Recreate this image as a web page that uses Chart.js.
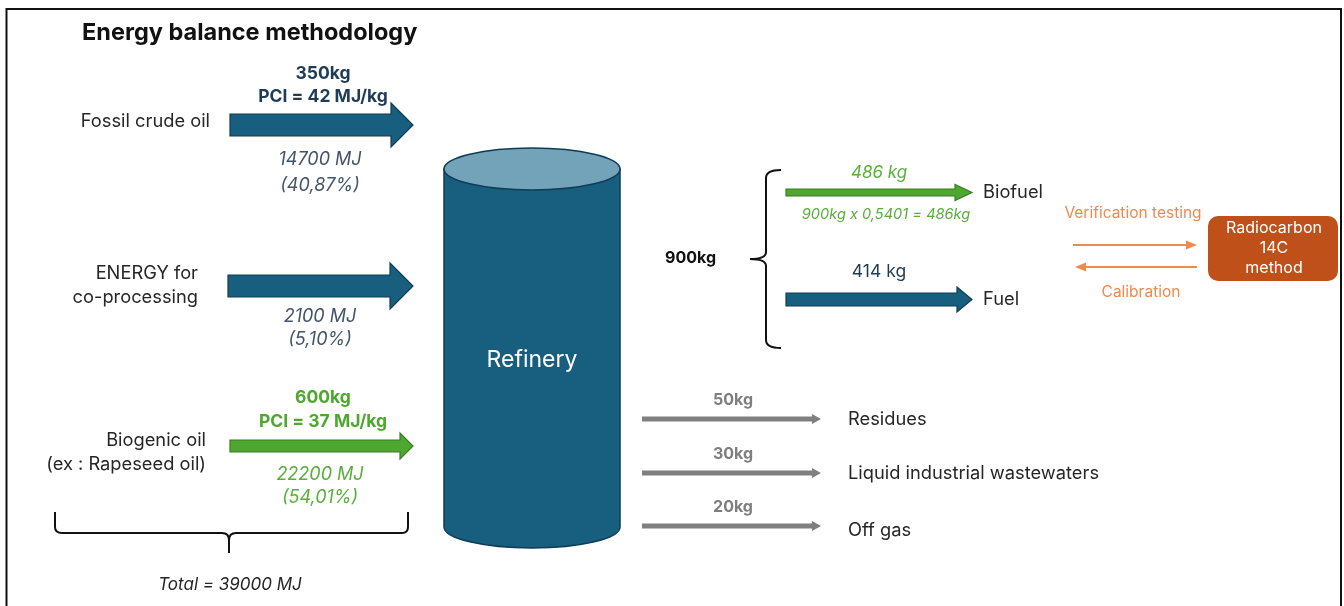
<!DOCTYPE html>
<html>
<head>
<meta charset="utf-8">
<script src="https://cdn.jsdelivr.net/npm/chart.js@4.4.1/dist/chart.umd.min.js"></script>
<style>
  html, body { margin: 0; padding: 0; background: #fff; }
  #wrap { width: 1344px; height: 606px; }
</style>
</head>
<body>
<div id="wrap"><canvas id="diagram" width="1344" height="606"></canvas></div>
<script>
const inputNames = [['Fossil crude oil'], ['ENERGY for', 'co-processing'], ['Biogenic oil', '(ex : Rapeseed oil)']];
const inputMass = [350, null, 600];          // kg
const inputPCI = [42, null, 37];             // MJ/kg
const inputEnergy = [14700, 2100, 22200];    // MJ
const inputShare = ['40,87', '5,10', '54,01']; // %
const totalEnergy = 39000;                   // MJ

const productNames = ['Biofuel', 'Fuel'];
const productMass = [486, 414];              // kg
const productTotal = 900;                    // kg
const bioFactor = '0,5401';

const lossNames = ['Residues', 'Liquid industrial wastewaters', 'Off gas'];
const lossMass = [50, 30, 20];               // kg

const methodLines = ['Radiocarbon', '14C', 'method'];

// --- mise en page (unités du repère = px du schéma) ---
const FONT = "Inter, 'Liberation Sans', Arial, sans-serif";
const C = {
  blue: '#175e7f', blueEdge: '#0f3d55', blueText: '#1f3c57', blueItal: '#44546a',
  green: '#4ea72e', greenEdge: '#3a7d22', greenText: '#5aae3a',
  gray: '#7f7f7f', orange: '#ef8a4f', box: '#c0501a', text: '#262626',
};
const inputRows = [
  { labelX: 210, labelY: [122], x0: 230, yc: 125, shaft: 22, head: 44, headLen: 22, col: 'blue', topY: [74, 97], botY: [160, 186] },
  { labelX: 198, labelY: [274, 298], x0: 228, yc: 286, shaft: 22, head: 46, headLen: 23, col: 'blue', topY: null, botY: [317, 340] },
  { labelX: 206, labelY: [441, 465], x0: 230, yc: 446, shaft: 12, head: 26, headLen: 13, col: 'green', topY: [398, 422], botY: [475, 498] },
];
const productRows = [
  { yc: 192.5, shaft: 7, head: 16, headLen: 17, col: 'green', labelY: 173, nameY: 193 },
  { yc: 299.5, shaft: 13, head: 25, headLen: 15, col: 'blue', labelY: 272, nameY: 300 },
];
const lossRows = [419, 473, 526];

const diagramPlugin = {
  id: 'diagram',
  afterDraw(chart) {
    const ctx = chart.ctx;
    const xs = chart.scales.x, ys = chart.scales.y;
    const X = v => xs.getPixelForValue(v);
    const Y = v => ys.getPixelForValue(v);

    function text(str, x, y, opt) {
      ctx.save();
      ctx.font = (opt.style || '') + ' ' + (opt.weight || 'normal') + ' ' + opt.size + 'px ' + FONT;
      ctx.fillStyle = opt.color || C.text;
      ctx.textAlign = opt.align || 'center';
      ctx.textBaseline = 'middle';
      ctx.fillText(str, X(x), Y(y));
      ctx.restore();
    }

    function arrow(x0, x1, yc, shaft, head, headLen, fill, stroke) {
      const hb = x1 - headLen;
      ctx.save();
      ctx.beginPath();
      ctx.moveTo(X(x0), Y(yc - shaft / 2));
      ctx.lineTo(X(hb), Y(yc - shaft / 2));
      ctx.lineTo(X(hb), Y(yc - head / 2));
      ctx.lineTo(X(x1), Y(yc));
      ctx.lineTo(X(hb), Y(yc + head / 2));
      ctx.lineTo(X(hb), Y(yc + shaft / 2));
      ctx.lineTo(X(x0), Y(yc + shaft / 2));
      ctx.closePath();
      ctx.fillStyle = fill;
      ctx.fill();
      if (stroke) { ctx.strokeStyle = stroke; ctx.lineWidth = 1.2; ctx.stroke(); }
      ctx.restore();
    }

    function thinArrow(x0, x1, y, color) {
      const dir = Math.sign(x1 - x0);
      ctx.save();
      ctx.strokeStyle = color; ctx.fillStyle = color; ctx.lineWidth = 2;
      ctx.beginPath();
      ctx.moveTo(X(x0), Y(y)); ctx.lineTo(X(x1 - dir * 8), Y(y)); ctx.stroke();
      ctx.beginPath();
      ctx.moveTo(X(x1), Y(y));
      ctx.lineTo(X(x1 - dir * 11), Y(y - 4.5));
      ctx.lineTo(X(x1 - dir * 11), Y(y + 4.5));
      ctx.closePath(); ctx.fill();
      ctx.restore();
    }

    // cadre
    ctx.save();
    ctx.strokeStyle = '#111'; ctx.lineWidth = 2;
    ctx.beginPath();
    ctx.moveTo(X(6.5), Y(606)); ctx.lineTo(X(6.5), Y(9)); ctx.lineTo(X(1341), Y(9)); ctx.lineTo(X(1341), Y(606));
    ctx.stroke();
    ctx.restore();

    text('Energy balance methodology', 82, 33, { weight: 'bold', size: 23.5, align: 'left', color: '#111' });

    // entrées
    inputRows.forEach((r, i) => {
      const blue = r.col === 'blue';
      inputNames[i].forEach((ln, k) => text(ln, r.labelX, r.labelY[k], { size: 18.3, align: 'right' }));
      arrow(r.x0, 413, r.yc, r.shaft, r.head, r.headLen, blue ? C.blue : C.green, blue ? C.blueEdge : C.greenEdge);
      const tc = blue ? C.blueText : C.green;
      if (r.topY && inputMass[i] != null) {
        text(inputMass[i] + 'kg', 323, r.topY[0], { weight: 'bold', size: 17.5, color: tc });
        text('PCI = ' + inputPCI[i] + ' MJ/kg', 323, r.topY[1], { weight: 'bold', size: 17.5, color: tc });
      }
      const ic = blue ? C.blueItal : C.greenText;
      text(inputEnergy[i] + ' MJ', 320, r.botY[0], { style: 'italic', size: 18, color: ic });
      text('(' + inputShare[i] + '%)', 320, r.botY[1], { style: 'italic', size: 18, color: ic });
    });

    // accolade du total
    ctx.save();
    ctx.strokeStyle = '#111'; ctx.lineWidth = 2;
    ctx.beginPath();
    ctx.moveTo(X(55), Y(512)); ctx.lineTo(X(55), Y(527));
    ctx.quadraticCurveTo(X(55), Y(533), X(62), Y(533));
    ctx.lineTo(X(222), Y(533));
    ctx.quadraticCurveTo(X(229), Y(533), X(229), Y(540));
    ctx.lineTo(X(229), Y(553));
    ctx.moveTo(X(229), Y(540));
    ctx.quadraticCurveTo(X(229), Y(533), X(236), Y(533));
    ctx.lineTo(X(402), Y(533));
    ctx.quadraticCurveTo(X(408), Y(533), X(408), Y(527));
    ctx.lineTo(X(408), Y(512));
    ctx.stroke();
    ctx.restore();
    text('Total = ' + totalEnergy + ' MJ', 230, 585, { style: 'italic', size: 17 });

    // raffinerie
    ctx.save();
    const cx = X(532), rx = X(620) - X(532), ry = Y(190) - Y(169);
    ctx.fillStyle = C.blue; ctx.strokeStyle = C.blueEdge; ctx.lineWidth = 1.5;
    ctx.beginPath();
    ctx.moveTo(X(444), Y(169));
    ctx.lineTo(X(444), Y(527));
    ctx.ellipse(cx, Y(527), rx, ry, 0, Math.PI, 0, true);
    ctx.lineTo(X(620), Y(169));
    ctx.closePath();
    ctx.fill(); ctx.stroke();
    ctx.beginPath();
    ctx.ellipse(cx, Y(169), rx, ry, 0, 0, Math.PI * 2);
    ctx.fillStyle = '#72a3b8'; ctx.fill(); ctx.stroke();
    ctx.restore();
    text('Refinery', 532, 360, { size: 23, color: '#fff' });

    // produits
    text(productTotal + 'kg', 665, 258, { weight: 'bold', size: 16, align: 'left', color: '#111' });
    ctx.save();
    ctx.strokeStyle = '#111'; ctx.lineWidth = 2;
    ctx.beginPath();
    ctx.moveTo(X(781), Y(170));
    ctx.quadraticCurveTo(X(766), Y(170), X(766), Y(178));
    ctx.lineTo(X(766), Y(252));
    ctx.quadraticCurveTo(X(766), Y(259), X(750), Y(259));
    ctx.quadraticCurveTo(X(766), Y(259), X(766), Y(266));
    ctx.lineTo(X(766), Y(340));
    ctx.quadraticCurveTo(X(766), Y(348), X(781), Y(348));
    ctx.stroke();
    ctx.restore();
    productRows.forEach((r, i) => {
      const blue = r.col === 'blue';
      arrow(786, 972, r.yc, r.shaft, r.head, r.headLen, blue ? C.blue : C.green, blue ? C.blueEdge : C.greenEdge);
      text(productMass[i] + ' kg', 879, r.labelY, blue ? { size: 17.5, color: C.blueText } : { style: 'italic', size: 17, color: C.greenText });
      text(productNames[i], 983, r.nameY, { size: 18.3, align: 'left' });
    });
    text(productTotal + 'kg x ' + bioFactor + ' = ' + productMass[0] + 'kg', 886, 215, { style: 'italic', size: 14.6, color: C.greenText });

    // vérification 14C
    text('Verification testing', 1133, 213, { size: 15.5, color: C.orange });
    thinArrow(1073, 1197, 245, C.orange);
    thinArrow(1197, 1075, 267, C.orange);
    text('Calibration', 1141, 292, { size: 15.5, color: C.orange });
    ctx.save();
    ctx.fillStyle = C.box;
    ctx.beginPath();
    ctx.roundRect(X(1208), Y(216), X(1338) - X(1208), Y(281) - Y(216), 10);
    ctx.fill();
    ctx.restore();
    methodLines.forEach((ln, k) => text(ln, 1274, 228 + k * 20, { size: 16, color: '#fff' }));

    // pertes
    lossRows.forEach((yc, i) => {
      arrow(642, 821, yc, 5, 10, 9, C.gray, null);
      text(lossMass[i] + 'kg', 733, yc - 19, { weight: 'bold', size: 16, color: C.gray });
      text(lossNames[i], 848, yc + 1 + (i === 2 ? 4 : 0), { size: 18.3, align: 'left' });
    });
  }
};

new Chart(document.getElementById('diagram'), {
  type: 'scatter',
  data: { datasets: [{ data: [] }] },
  options: {
    responsive: false,
    devicePixelRatio: 1,
    animation: false,
    layout: { padding: 0 },
    scales: {
      x: { type: 'linear', min: 0, max: 1344, display: false },
      y: { type: 'linear', min: 0, max: 606, reverse: true, display: false },
    },
    plugins: { legend: { display: false }, tooltip: { enabled: false } },
  },
  plugins: [diagramPlugin],
});
</script>
</body>
</html>
